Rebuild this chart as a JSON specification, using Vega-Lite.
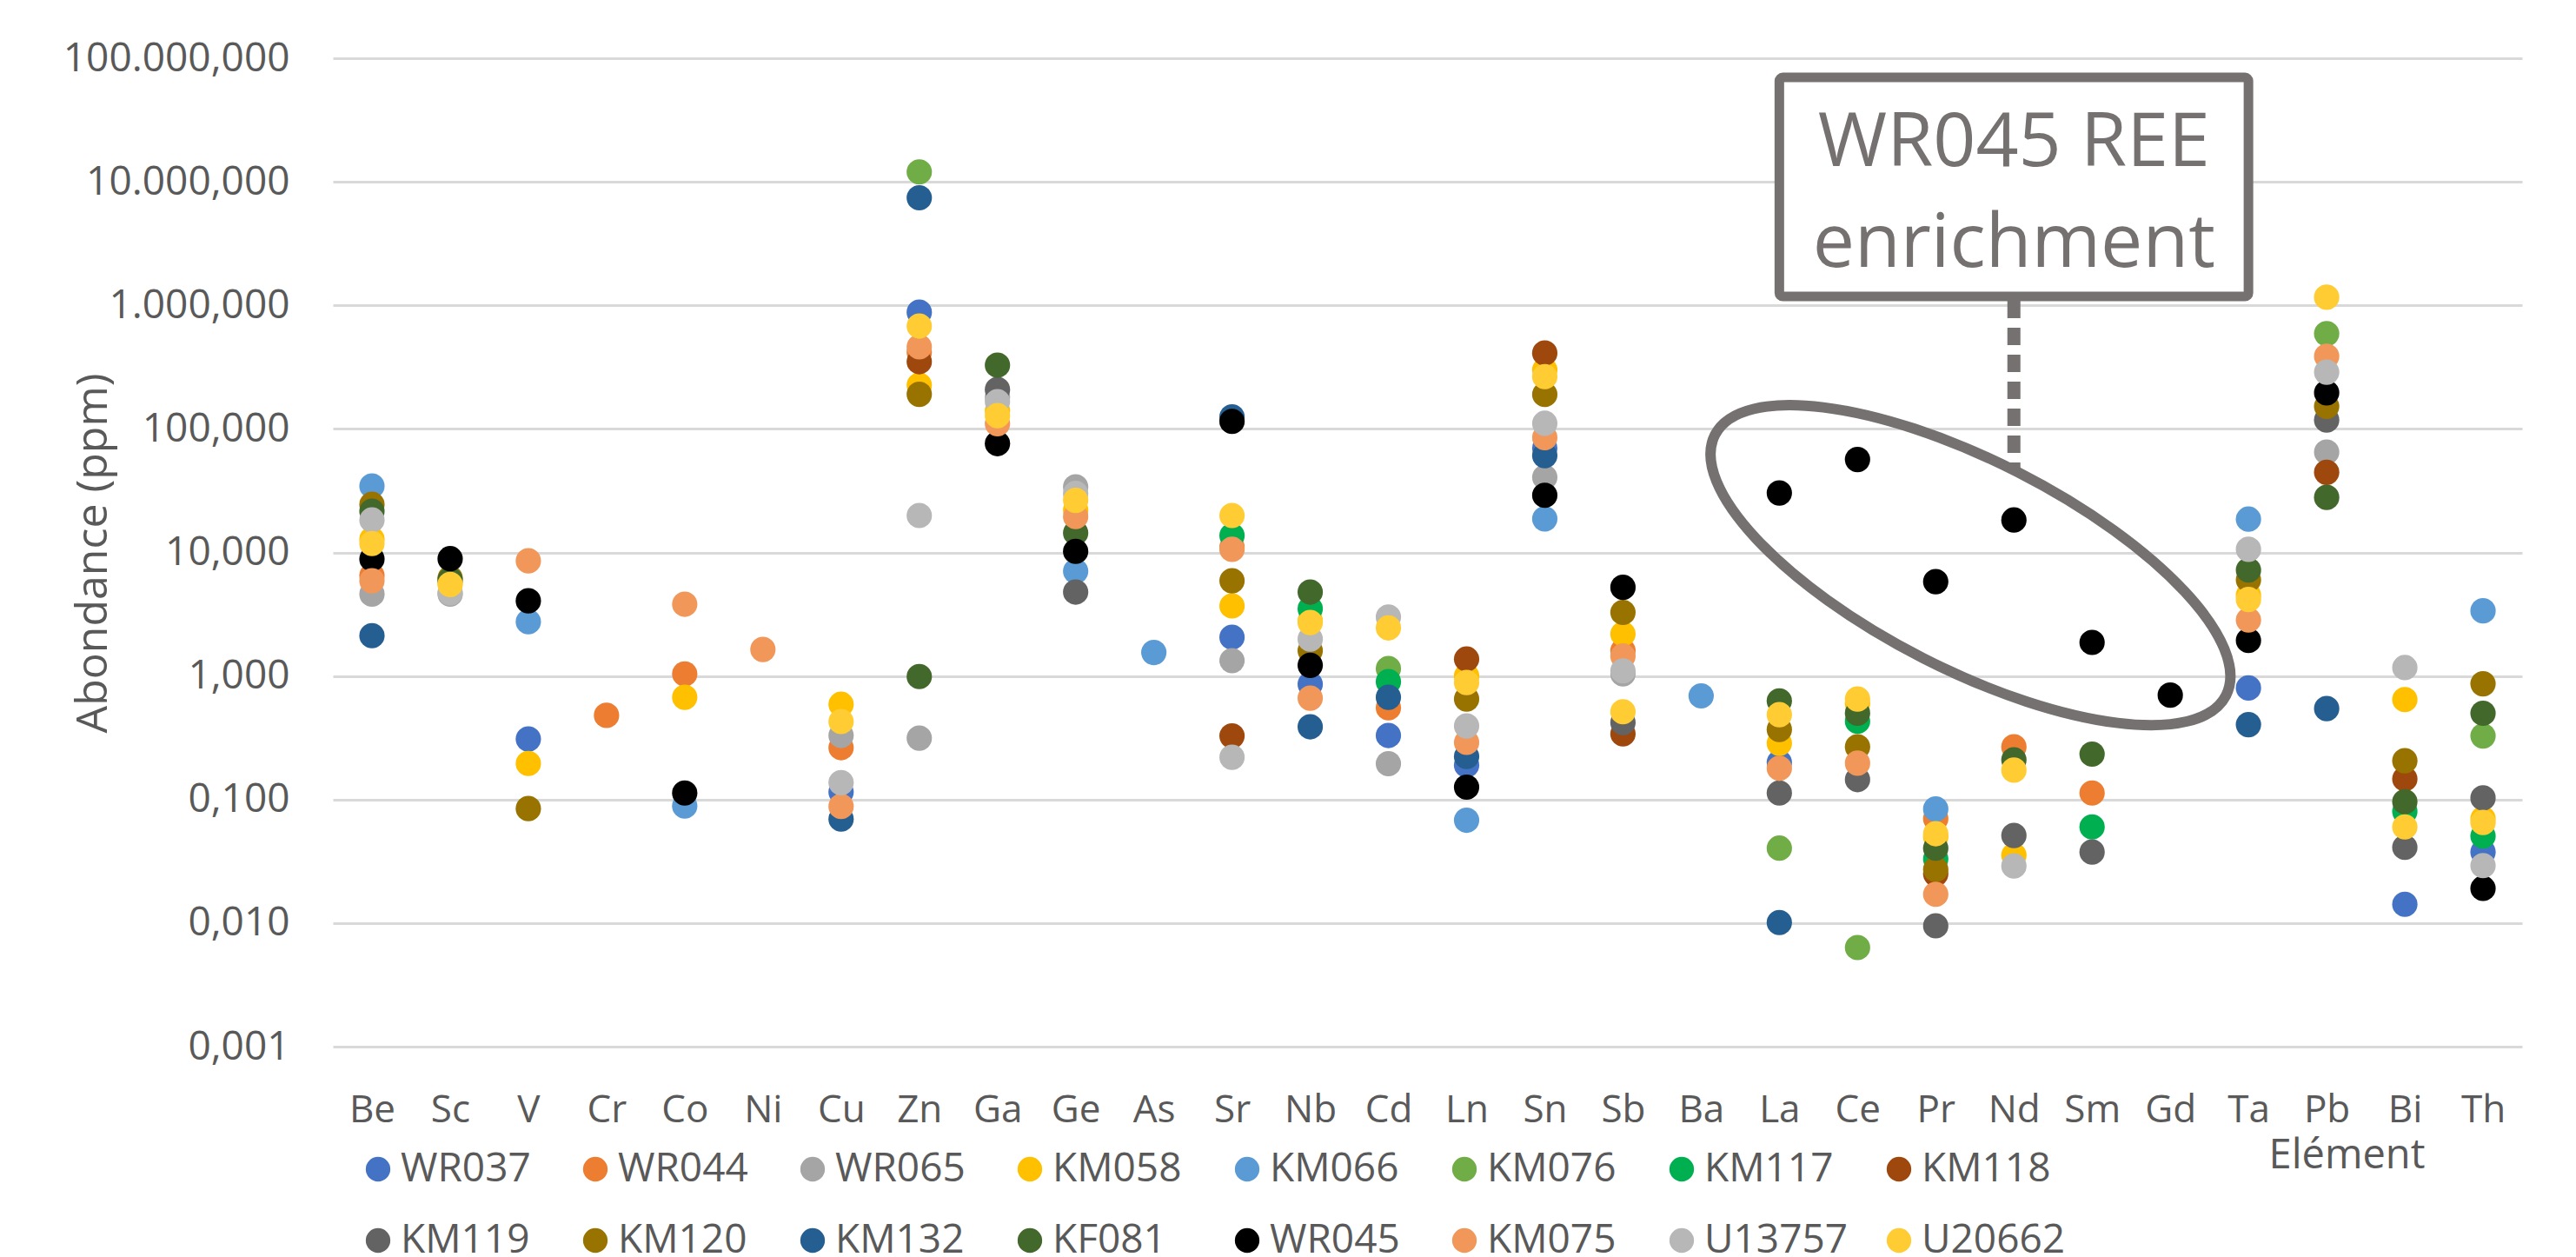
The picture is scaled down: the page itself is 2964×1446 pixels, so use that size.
{
  "$schema": "https://vega.github.io/schema/vega-lite/v6.json",
  "width": 2519,
  "height": 1137,
  "autosize": {"type": "none"},
  "padding": {"left": 383, "top": 67, "right": 62, "bottom": 242},
  "background": "white",
  "config": {"font": "Open Sans", "view": {"stroke": null}},
  "layer": [
    {
      "data": {"values": [
        {"sample":"WR037","element":"V","ppm":0.309},
        {"sample":"WR037","element":"Cu","ppm":0.115},
        {"sample":"WR037","element":"Zn","ppm":880},
        {"sample":"WR037","element":"Sr","ppm":2.06},
        {"sample":"WR037","element":"Nb","ppm":0.86},
        {"sample":"WR037","element":"Cd","ppm":0.33},
        {"sample":"WR037","element":"Ln","ppm":0.19},
        {"sample":"WR037","element":"Sn","ppm":70},
        {"sample":"WR037","element":"La","ppm":0.2},
        {"sample":"WR037","element":"Ta","ppm":0.8},
        {"sample":"WR037","element":"Bi","ppm":0.0142},
        {"sample":"WR037","element":"Th","ppm":0.0376},
        {"sample":"WR044","element":"Be","ppm":6.5},
        {"sample":"WR044","element":"Cr","ppm":0.48},
        {"sample":"WR044","element":"Co","ppm":1.04},
        {"sample":"WR044","element":"Cu","ppm":0.263},
        {"sample":"WR044","element":"Zn","ppm":418},
        {"sample":"WR044","element":"Sr","ppm":11},
        {"sample":"WR044","element":"Cd","ppm":0.553},
        {"sample":"WR044","element":"Sb","ppm":1.6},
        {"sample":"WR044","element":"Pr","ppm":0.07},
        {"sample":"WR044","element":"Nd","ppm":0.267},
        {"sample":"WR044","element":"Sm","ppm":0.113},
        {"sample":"WR065","element":"Be","ppm":4.6},
        {"sample":"WR065","element":"Sc","ppm":4.6},
        {"sample":"WR065","element":"Cu","ppm":0.33},
        {"sample":"WR065","element":"Zn","ppm":0.314},
        {"sample":"WR065","element":"Ga","ppm":180},
        {"sample":"WR065","element":"Ge","ppm":34},
        {"sample":"WR065","element":"Sr","ppm":1.33},
        {"sample":"WR065","element":"Cd","ppm":0.195},
        {"sample":"WR065","element":"Sn","ppm":40.6},
        {"sample":"WR065","element":"Sb","ppm":1.04},
        {"sample":"WR065","element":"Pb","ppm":65},
        {"sample":"KM058","element":"Be","ppm":12.8},
        {"sample":"KM058","element":"Sc","ppm":5.7},
        {"sample":"KM058","element":"V","ppm":0.196},
        {"sample":"KM058","element":"Co","ppm":0.673},
        {"sample":"KM058","element":"Cu","ppm":0.59},
        {"sample":"KM058","element":"Zn","ppm":226},
        {"sample":"KM058","element":"Ga","ppm":140},
        {"sample":"KM058","element":"Ge","ppm":22},
        {"sample":"KM058","element":"Sr","ppm":3.69},
        {"sample":"KM058","element":"Nb","ppm":2.8},
        {"sample":"KM058","element":"Ln","ppm":1.0},
        {"sample":"KM058","element":"Sn","ppm":300},
        {"sample":"KM058","element":"Sb","ppm":2.19},
        {"sample":"KM058","element":"La","ppm":0.285},
        {"sample":"KM058","element":"Ce","ppm":0.6},
        {"sample":"KM058","element":"Pr","ppm":0.05},
        {"sample":"KM058","element":"Nd","ppm":0.0354},
        {"sample":"KM058","element":"Ta","ppm":4.5},
        {"sample":"KM058","element":"Bi","ppm":0.644},
        {"sample":"KM058","element":"Th","ppm":0.07},
        {"sample":"KM066","element":"Be","ppm":34.5},
        {"sample":"KM066","element":"V","ppm":2.75},
        {"sample":"KM066","element":"Co","ppm":0.0887},
        {"sample":"KM066","element":"Ge","ppm":7.05},
        {"sample":"KM066","element":"As","ppm":1.55},
        {"sample":"KM066","element":"Ln","ppm":0.068},
        {"sample":"KM066","element":"Sn","ppm":18.7},
        {"sample":"KM066","element":"Ba","ppm":0.69},
        {"sample":"KM066","element":"Pr","ppm":0.0838},
        {"sample":"KM066","element":"Ta","ppm":18.6},
        {"sample":"KM066","element":"Th","ppm":3.37},
        {"sample":"KM076","element":"Zn","ppm":12030},
        {"sample":"KM076","element":"Cd","ppm":1.15},
        {"sample":"KM076","element":"La","ppm":0.0404},
        {"sample":"KM076","element":"Ce","ppm":0.00634},
        {"sample":"KM076","element":"Pb","ppm":590},
        {"sample":"KM076","element":"Th","ppm":0.327},
        {"sample":"KM117","element":"Sr","ppm":13.7},
        {"sample":"KM117","element":"Nb","ppm":3.5},
        {"sample":"KM117","element":"Cd","ppm":0.9},
        {"sample":"KM117","element":"Ce","ppm":0.43},
        {"sample":"KM117","element":"Pr","ppm":0.0331},
        {"sample":"KM117","element":"Sm","ppm":0.06},
        {"sample":"KM117","element":"Bi","ppm":0.08},
        {"sample":"KM117","element":"Th","ppm":0.0506},
        {"sample":"KM118","element":"Zn","ppm":350},
        {"sample":"KM118","element":"Sr","ppm":0.327},
        {"sample":"KM118","element":"Ln","ppm":1.37},
        {"sample":"KM118","element":"Sn","ppm":411},
        {"sample":"KM118","element":"Sb","ppm":0.34},
        {"sample":"KM118","element":"Pr","ppm":0.025},
        {"sample":"KM118","element":"Pb","ppm":44.5},
        {"sample":"KM118","element":"Bi","ppm":0.147},
        {"sample":"KM119","element":"Ga","ppm":208},
        {"sample":"KM119","element":"Ge","ppm":4.78},
        {"sample":"KM119","element":"Sb","ppm":0.42},
        {"sample":"KM119","element":"La","ppm":0.113},
        {"sample":"KM119","element":"Ce","ppm":0.145},
        {"sample":"KM119","element":"Pr","ppm":0.0095},
        {"sample":"KM119","element":"Nd","ppm":0.0512},
        {"sample":"KM119","element":"Sm","ppm":0.0376},
        {"sample":"KM119","element":"Pb","ppm":118},
        {"sample":"KM119","element":"Bi","ppm":0.041},
        {"sample":"KM119","element":"Th","ppm":0.103},
        {"sample":"KM120","element":"Be","ppm":24.5},
        {"sample":"KM120","element":"Sc","ppm":6.2},
        {"sample":"KM120","element":"V","ppm":0.0845},
        {"sample":"KM120","element":"Zn","ppm":190.5},
        {"sample":"KM120","element":"Sr","ppm":5.9},
        {"sample":"KM120","element":"Nb","ppm":1.6},
        {"sample":"KM120","element":"Ln","ppm":0.651},
        {"sample":"KM120","element":"Sn","ppm":190},
        {"sample":"KM120","element":"Sb","ppm":3.27},
        {"sample":"KM120","element":"La","ppm":0.369},
        {"sample":"KM120","element":"Ce","ppm":0.267},
        {"sample":"KM120","element":"Pr","ppm":0.0272},
        {"sample":"KM120","element":"Ta","ppm":6.0},
        {"sample":"KM120","element":"Pb","ppm":152},
        {"sample":"KM120","element":"Bi","ppm":0.206},
        {"sample":"KM120","element":"Th","ppm":0.865},
        {"sample":"KM132","element":"Be","ppm":2.12},
        {"sample":"KM132","element":"Cu","ppm":0.0695},
        {"sample":"KM132","element":"Zn","ppm":7420},
        {"sample":"KM132","element":"Sr","ppm":125},
        {"sample":"KM132","element":"Nb","ppm":0.388},
        {"sample":"KM132","element":"Cd","ppm":0.673},
        {"sample":"KM132","element":"Ln","ppm":0.223},
        {"sample":"KM132","element":"Sn","ppm":60.8},
        {"sample":"KM132","element":"La","ppm":0.0101},
        {"sample":"KM132","element":"Ta","ppm":0.404},
        {"sample":"KM132","element":"Pb","ppm":0.545},
        {"sample":"KF081","element":"Be","ppm":21.6},
        {"sample":"KF081","element":"Sc","ppm":6.0},
        {"sample":"KF081","element":"Zn","ppm":0.99},
        {"sample":"KF081","element":"Ga","ppm":328},
        {"sample":"KF081","element":"Ge","ppm":14.4},
        {"sample":"KF081","element":"Nb","ppm":4.78},
        {"sample":"KF081","element":"La","ppm":0.629},
        {"sample":"KF081","element":"Ce","ppm":0.5},
        {"sample":"KF081","element":"Pr","ppm":0.0404},
        {"sample":"KF081","element":"Nd","ppm":0.21},
        {"sample":"KF081","element":"Sm","ppm":0.233},
        {"sample":"KF081","element":"Ta","ppm":7.2},
        {"sample":"KF081","element":"Pb","ppm":27.9},
        {"sample":"KF081","element":"Bi","ppm":0.096},
        {"sample":"KF081","element":"Th","ppm":0.499},
        {"sample":"WR045","element":"Be","ppm":8.85},
        {"sample":"WR045","element":"Sc","ppm":8.9},
        {"sample":"WR045","element":"V","ppm":4.06},
        {"sample":"WR045","element":"Co","ppm":0.113},
        {"sample":"WR045","element":"Ga","ppm":76},
        {"sample":"WR045","element":"Ge","ppm":10.2},
        {"sample":"WR045","element":"Sr","ppm":115},
        {"sample":"WR045","element":"Nb","ppm":1.22},
        {"sample":"WR045","element":"Ln","ppm":0.126},
        {"sample":"WR045","element":"Sn","ppm":29},
        {"sample":"WR045","element":"Sb","ppm":5.22},
        {"sample":"WR045","element":"La","ppm":30.3},
        {"sample":"WR045","element":"Ce","ppm":56.5},
        {"sample":"WR045","element":"Pr","ppm":5.8},
        {"sample":"WR045","element":"Nd","ppm":18.3},
        {"sample":"WR045","element":"Sm","ppm":1.87},
        {"sample":"WR045","element":"Gd","ppm":0.7},
        {"sample":"WR045","element":"Ta","ppm":1.94},
        {"sample":"WR045","element":"Pb","ppm":196},
        {"sample":"WR045","element":"Th","ppm":0.0191},
        {"sample":"KM075","element":"Be","ppm":5.9},
        {"sample":"KM075","element":"V","ppm":8.55},
        {"sample":"KM075","element":"Co","ppm":3.81},
        {"sample":"KM075","element":"Ni","ppm":1.64},
        {"sample":"KM075","element":"Cu","ppm":0.088},
        {"sample":"KM075","element":"Zn","ppm":461},
        {"sample":"KM075","element":"Ga","ppm":110},
        {"sample":"KM075","element":"Ge","ppm":19.5},
        {"sample":"KM075","element":"Sr","ppm":10.6},
        {"sample":"KM075","element":"Nb","ppm":0.662},
        {"sample":"KM075","element":"Ln","ppm":0.29},
        {"sample":"KM075","element":"Sn","ppm":85},
        {"sample":"KM075","element":"Sb","ppm":1.45},
        {"sample":"KM075","element":"La","ppm":0.179},
        {"sample":"KM075","element":"Ce","ppm":0.197},
        {"sample":"KM075","element":"Pr","ppm":0.0171},
        {"sample":"KM075","element":"Ta","ppm":2.84},
        {"sample":"KM075","element":"Pb","ppm":387},
        {"sample":"U13757","element":"Be","ppm":18.3},
        {"sample":"U13757","element":"Sc","ppm":4.7},
        {"sample":"U13757","element":"Cu","ppm":0.137},
        {"sample":"U13757","element":"Zn","ppm":19.9},
        {"sample":"U13757","element":"Ga","ppm":166},
        {"sample":"U13757","element":"Ge","ppm":30},
        {"sample":"U13757","element":"Sr","ppm":0.22},
        {"sample":"U13757","element":"Nb","ppm":1.99},
        {"sample":"U13757","element":"Cd","ppm":3.0},
        {"sample":"U13757","element":"Ln","ppm":0.394},
        {"sample":"U13757","element":"Sn","ppm":111},
        {"sample":"U13757","element":"Sb","ppm":1.1},
        {"sample":"U13757","element":"Nd","ppm":0.029},
        {"sample":"U13757","element":"Ta","ppm":10.6},
        {"sample":"U13757","element":"Pb","ppm":288},
        {"sample":"U13757","element":"Bi","ppm":1.17},
        {"sample":"U13757","element":"Th","ppm":0.0292},
        {"sample":"U20662","element":"Be","ppm":11.8},
        {"sample":"U20662","element":"Sc","ppm":5.5},
        {"sample":"U20662","element":"Cu","ppm":0.428},
        {"sample":"U20662","element":"Zn","ppm":680},
        {"sample":"U20662","element":"Ga","ppm":128},
        {"sample":"U20662","element":"Ge","ppm":26.4},
        {"sample":"U20662","element":"Sr","ppm":19.9},
        {"sample":"U20662","element":"Nb","ppm":2.71},
        {"sample":"U20662","element":"Cd","ppm":2.45},
        {"sample":"U20662","element":"Ln","ppm":0.885},
        {"sample":"U20662","element":"Sn","ppm":265},
        {"sample":"U20662","element":"Sb","ppm":0.514},
        {"sample":"U20662","element":"La","ppm":0.486},
        {"sample":"U20662","element":"Ce","ppm":0.651},
        {"sample":"U20662","element":"Pr","ppm":0.0529},
        {"sample":"U20662","element":"Nd","ppm":0.173},
        {"sample":"U20662","element":"Ta","ppm":4.16},
        {"sample":"U20662","element":"Pb","ppm":1164},
        {"sample":"U20662","element":"Bi","ppm":0.06},
        {"sample":"U20662","element":"Th","ppm":0.0652}
      ]},
      "mark": {"type": "circle", "size": 850, "opacity": 1},
      "encoding": {
        "x": {
          "field": "element", "type": "nominal", "sort": null,
          "scale": {"type": "point", "padding": 0.5, "domain": ["Be","Sc","V","Cr","Co","Ni","Cu","Zn","Ga","Ge","As","Sr","Nb","Cd","Ln","Sn","Sb","Ba","La","Ce","Pr","Nd","Sm","Gd","Ta","Pb","Bi","Th"]},
          "axis": {
            "title": "Elément", "titleX": 2317, "titleY": 139, "titleAlign": "center", "titleBaseline": "alphabetic",
            "titleFontSize": 47, "titleFontWeight": "normal", "titleColor": "#595959", "titleFont": "Open Sans",
            "labelFontSize": 44, "labelColor": "#595959", "labelFont": "Open Sans", "labelAngle": 0, "labelPadding": 51,
            "ticks": false, "tickSize": 0, "domain": false, "grid": false
          }
        },
        "y": {
          "field": "ppm", "type": "quantitative",
          "scale": {"type": "log", "domain": [0.001, 100000], "nice": false},
          "axis": {
            "title": "Abondance (ppm)", "values": [0.001, 0.01, 0.1, 1, 10, 100, 1000, 10000, 100000],
            "labelExpr": "replace(replace(replace(format(datum.value, ',.3f'), ',', '#'), '.', ','), '#', '.')",
            "labelFontSize": 46, "labelColor": "#595959", "labelFont": "Open Sans", "labelPadding": 50, "labelLimit": 600,
            "ticks": false, "tickSize": 0, "domain": false, "grid": true, "gridColor": "#D9D9D9", "gridWidth": 3,
            "titleFontSize": 50, "titleFontWeight": "normal", "titleColor": "#595959", "titleFont": "Open Sans",
            "titleX": -261, "titleY": 569, "titleAngle": 270, "titleAlign": "center", "titleBaseline": "alphabetic"
          }
        },
        "color": {
          "field": "sample", "type": "nominal",
          "scale": {
            "domain": ["WR037","WR044","WR065","KM058","KM066","KM076","KM117","KM118","KM119","KM120","KM132","KF081","WR045","KM075","U13757","U20662"],
            "range": ["#4472C4","#ED7D31","#A5A5A5","#FFC000","#5B9BD5","#70AD47","#00B050","#9E480E","#636363","#997300","#255E91","#43682B","#000000","#F1975A","#B7B7B7","#FFCD33"]
          },
          "legend": {
            "title": null, "orient": "none", "legendX": 29, "legendY": 1255, "direction": "horizontal", "columns": 8,
            "symbolType": "circle", "symbolSize": 800, "labelFontSize": 46, "labelColor": "#595959", "labelFont": "Open Sans",
            "labelOffset": 3, "columnPadding": 35, "rowPadding": 36, "gridAlign": "all", "padding": 0, "labelLimit": 400
          }
        }
      }
    },
    {
      "data": {"values": [{}]},
      "mark": {"type": "rule", "stroke": "#767171", "strokeWidth": 15, "strokeDash": [20, 11]},
      "encoding": {
        "x": {"datum": "Nd", "type": "nominal"},
        "y": {"datum": 1089, "type": "quantitative"},
        "y2": {"datum": 45.4}
      }
    },
    {
      "data": {"values": [{}]},
      "mark": {"type": "rect", "fill": "white", "stroke": "#767171", "strokeWidth": 11, "cornerRadius": 4},
      "encoding": {
        "x": {"datum": "La", "type": "nominal"},
        "x2": {"datum": "Ta"},
        "y": {"datum": 69900, "type": "quantitative"},
        "y2": {"datum": 1180}
      }
    },
    {
      "data": {"values": [{}]},
      "mark": {"type": "text", "text": "WR045 REE", "fontSize": 86, "fontWeight": "normal", "font": "Open Sans", "color": "#767171", "align": "center", "baseline": "alphabetic"},
      "encoding": {
        "x": {"datum": "Nd", "type": "nominal"},
        "y": {"datum": 13400, "type": "quantitative"}
      }
    },
    {
      "data": {"values": [{}]},
      "mark": {"type": "text", "text": "enrichment", "fontSize": 86, "fontWeight": "normal", "font": "Open Sans", "color": "#767171", "align": "center", "baseline": "alphabetic"},
      "encoding": {
        "x": {"datum": "Nd", "type": "nominal"},
        "y": {"datum": 2046, "type": "quantitative"}
      }
    },
    {
      "data": {"values": [{}]},
      "mark": {
        "type": "point",
        "shape": "M 1.0122 0.454 C 0.921 0.6329 0.4482 0.5747 -0.0439 0.324 C -0.536 0.0733 -0.861 -0.2751 -0.7698 -0.454 C -0.6786 -0.6329 -0.2058 -0.5747 0.2863 -0.324 C 0.7784 -0.0733 1.1034 0.2751 1.0122 0.454 Z",
        "size": 435600, "filled": false, "stroke": "#767171", "strokeWidth": 12, "opacity": 1
      },
      "encoding": {
        "x": {"datum": "Pr", "type": "nominal"},
        "y": {"datum": 7.89, "type": "quantitative"}
      }
    }
  ]
}
